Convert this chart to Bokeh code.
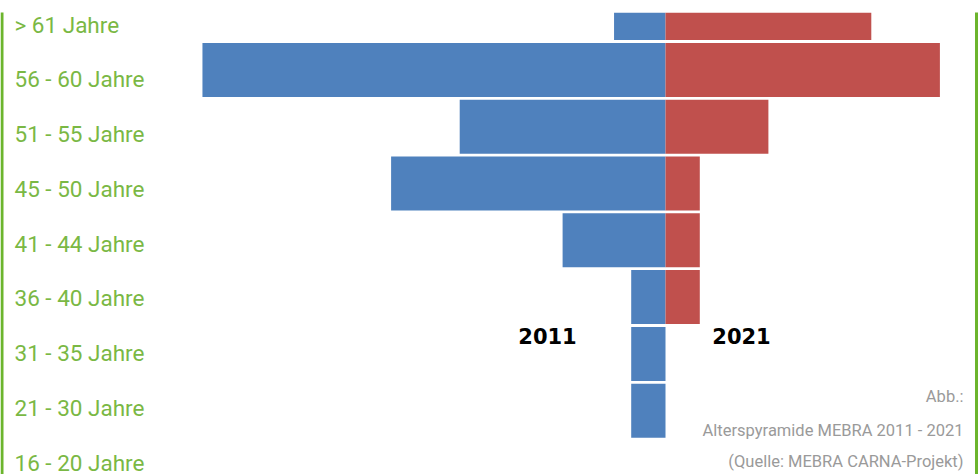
from bokeh.plotting import figure
from bokeh.models import Range1d, ColumnDataSource
from bokeh.core.properties import value
from bokeh.embed import file_html
from bokeh.resources import INLINE

# Age groups, top to bottom
age_groups = ["> 61 Jahre", "56 - 60 Jahre", "51 - 55 Jahre", "45 - 50 Jahre",
              "41 - 44 Jahre", "36 - 40 Jahre", "31 - 35 Jahre", "21 - 30 Jahre",
              "16 - 20 Jahre"]
count_2011 = [1.5, 13.5, 6, 8, 3, 1, 1, 1, 0]
count_2021 = [6, 8, 3, 1, 1, 1, 0, 0, 0]
year_labels = ["2011", "2021"]
caption_lines = ["Abb.:", "Alterspyramide MEBRA 2011 - 2021",
                 "(Quelle: MEBRA CARNA-Projekt)"]

W, H = 978, 474
TOP = 12                 # frame starts a little below the canvas top
CENTER_PX = 665          # pixel column of the zero line
UNIT_PX = 34.3           # pixels per unit on the value axis
ROW_PX = 56.8            # row pitch of the bars
LABEL_ROW_PX = 54.75     # row pitch of the age labels

n = len(age_groups)
idx = list(range(n - 1, -1, -1))   # top row gets the largest index

frame_h = H - TOP
x_start = -CENTER_PX / UNIT_PX
x_end = (W - CENTER_PX) / UNIT_PX
bottom_row_px = 467      # centre of the lowest row, from canvas top
y_start = -(H - bottom_row_px) / ROW_PX
y_end = y_start + frame_h / ROW_PX


def px_x(px):
    return x_start + px / UNIT_PX


def px_y(py):
    return y_start + (H - py) / ROW_PX


p = figure(width=W, height=H, output_backend="svg", toolbar_location=None,
           x_range=Range1d(x_start, x_end), y_range=Range1d(y_start, y_end),
           x_axis_location=None, y_axis_location=None, min_border=0,
           min_border_left=0, min_border_right=0, min_border_bottom=0,
           min_border_top=TOP)
p.xgrid.visible = False
p.ygrid.visible = False
p.outline_line_color = None
p.background_fill_color = "white"
p.border_fill_color = "white"

# Green side rules
p.quad(left=[px_x(0), px_x(974.5)], right=[px_x(3), px_x(977.5)],
       bottom=[y_start - 1] * 2, top=[y_end + 1] * 2,
       fill_color="#6cb52d", line_color=None)

src = ColumnDataSource(dict(
    y=idx,
    left_2011=[-v for v in count_2011],
    right_2021=count_2021,
    zero=[0] * n,
))

p.hbar(y="y", left="left_2011", right="zero", height=0.95, source=src,
       fill_color="#4f81bd", line_color=None)
p.hbar(y="y", left="zero", right="right_2021", height=0.95, source=src,
       fill_color="#c0504d", line_color=None)

# Age labels sit on their own evenly spaced scale
label_start = -(H - 462) / LABEL_ROW_PX
label_end = label_start + frame_h / LABEL_ROW_PX
p.extra_y_ranges = {"labels": Range1d(label_start, label_end)}
p.text(x=[px_x(14)] * n, y=idx, text=age_groups, y_range_name="labels",
       text_font=value("Roboto"), text_font_size="22.5px",
       text_color="#7ab844", text_align="left", text_baseline="middle")

# Year tags
p.text(x=[px_x(547), px_x(741)], y=[px_y(335), px_y(335)], text=year_labels,
       text_font=value("DejaVu Sans"), text_font_style="bold",
       text_font_size="21px", text_color="black",
       text_align="center", text_baseline="alphabetic")

# Caption, right aligned
p.text(x=[px_x(963)] * 3, y=[px_y(396), px_y(430), px_y(461)],
       text=caption_lines, text_font=value("Roboto"), text_font_size="16.5px",
       text_color="#9a9a9a", text_align="right", text_baseline="alphabetic")

open("out.html", "w").write(file_html(p, INLINE))
